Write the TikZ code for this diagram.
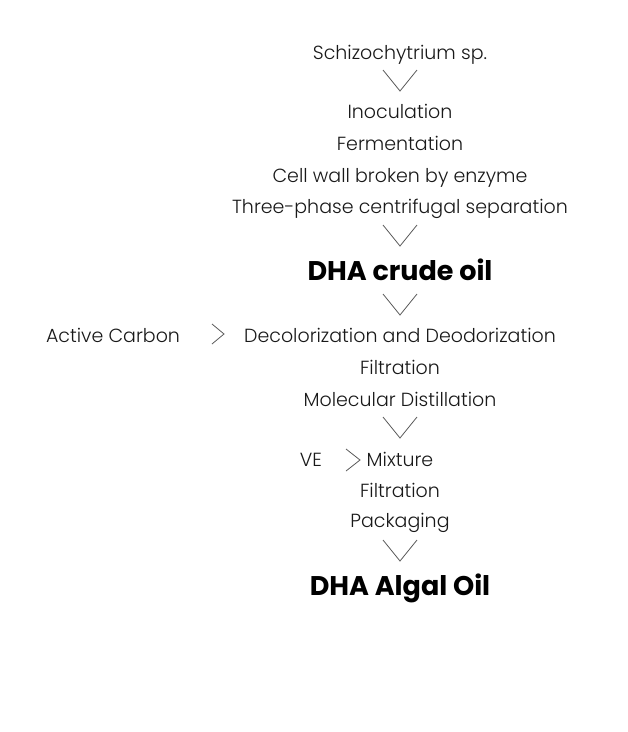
\documentclass[tikz,border=0pt]{standalone}
\usepackage{fontspec}
\setmainfont{Poppins Light}[BoldFont={Poppins Bold}]
\begin{document}
\begin{tikzpicture}[x=1pt,y=-1pt,
  txt/.style={inner sep=0pt,anchor=base,text=black!90,font=\fontsize{19}{22}\selectfont},
  big/.style={inner sep=0pt,anchor=base,text=black,font=\fontsize{27}{30}\selectfont\bfseries},
  chev/.style={draw=black!65,line width=0.8pt},
]
\useasboundingbox (0,0) rectangle (628,732);
\node[txt] (s) at (400,59) {Schizochytrium sp.};
\node[txt] (ino) at (400,118) {Inoculation};
\node[txt] (fer) at (400,150) {Fermentation};
\node[txt] (cell) at (400,182) {Cell wall broken by enzyme};
\node[txt] (three) at (400,213) {Three-phase centrifugal separation};
\node[big] (crude) at (400,280) {DHA crude oil};
\node[txt] (ac) at (113,342) {Active Carbon};
\node[txt] (deco) at (400,342) {Decolorization and Deodorization};
\node[txt] (fil1) at (400,374) {Filtration};
\node[txt] (mol) at (400,406) {Molecular Distillation};
\node[txt] (ve) at (311,466) {VE};
\node[txt] (mix) at (400,466) {Mixture};
\node[txt] (fil2) at (400,497) {Filtration};
\node[txt] (pack) at (400,527) {Packaging};
\node[big] (algal) at (400,595) {DHA Algal Oil};
% down chevrons
\foreach \y in {70,225,294,417,540}{
  \draw[chev] (383,\y) -- (400,\y+21) -- (417,\y);
}
% right chevrons
\draw[chev] (212,324) -- (224,334) -- (212,344);
\draw[chev] (346,449) -- (360,460) -- (346,471);
\end{tikzpicture}
\end{document}
